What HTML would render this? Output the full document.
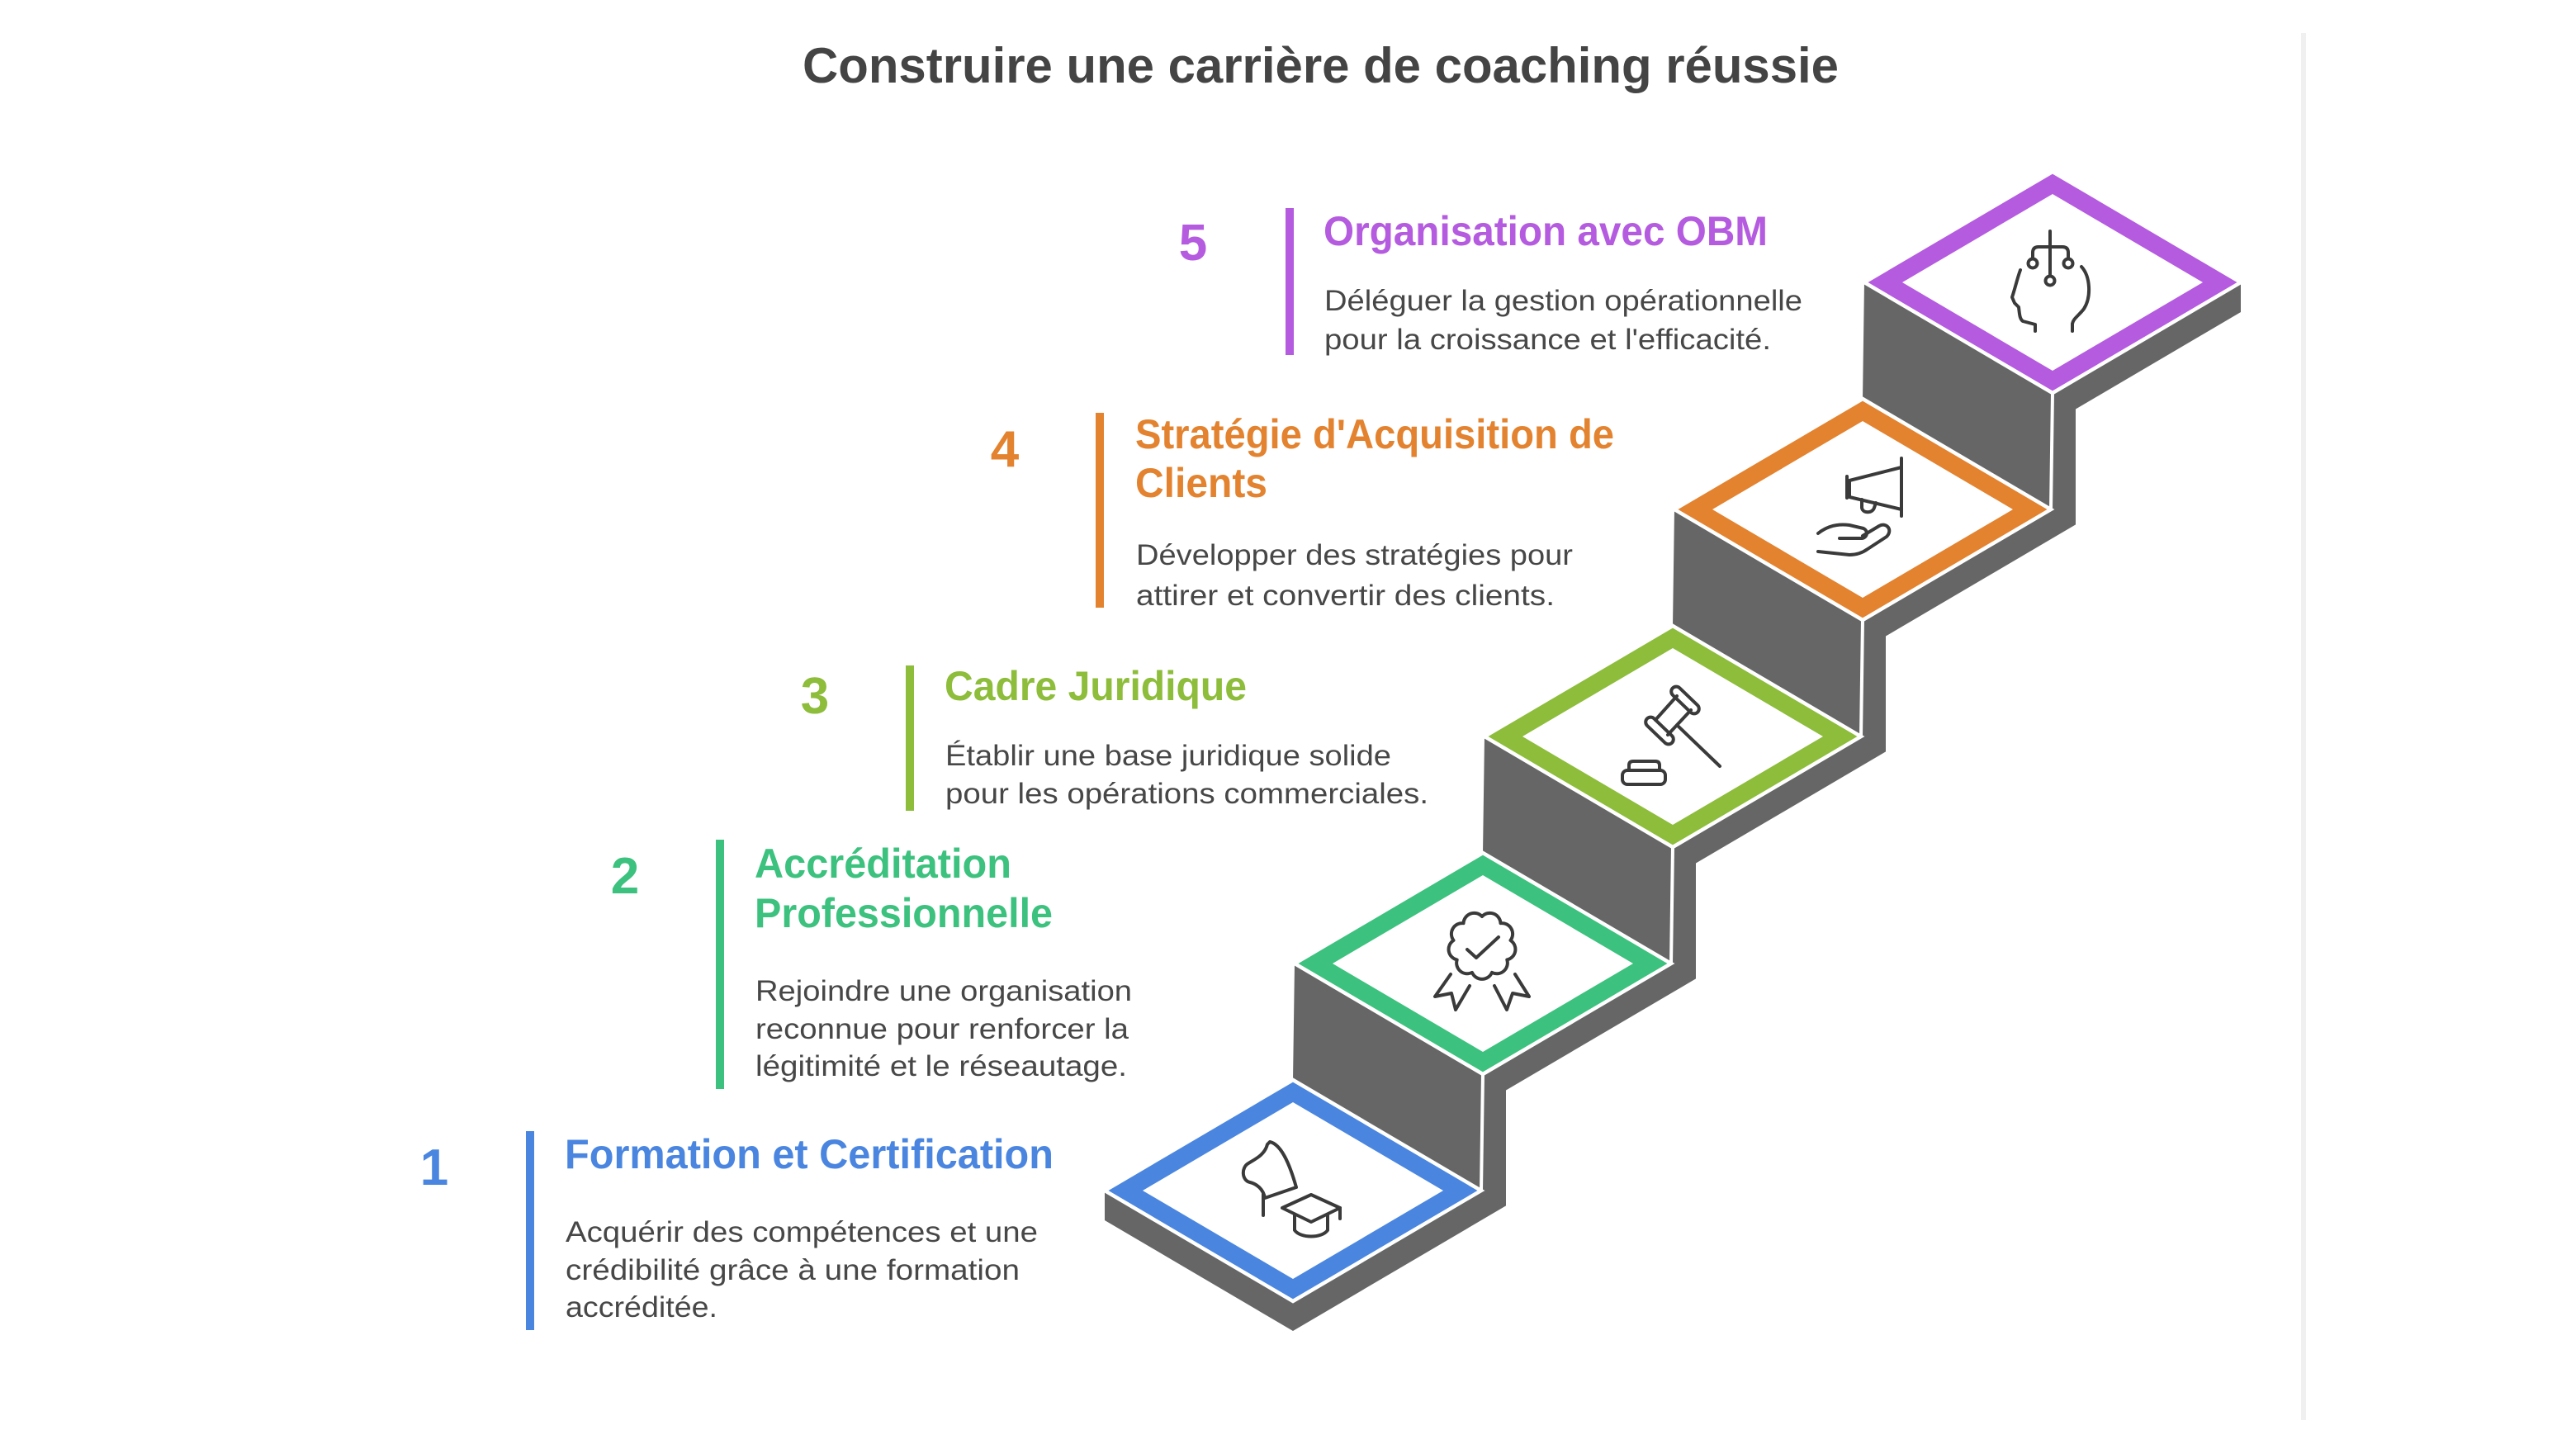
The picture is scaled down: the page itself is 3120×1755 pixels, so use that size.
<!DOCTYPE html>
<html>
<head>
<meta charset="utf-8">
<style>
  html, body { margin:0; padding:0; background:#ffffff; }
  body { width:3120px; height:1755px; overflow:hidden; }
  svg { display:block; }
  .t { font-family:"Liberation Sans", Arial, sans-serif; }
  .h { font-weight:bold; font-size:50px; }
  .n { font-weight:bold; font-size:62px; }
  .d { font-size:35px; fill:#474747; }
  .ic { fill:none; stroke:#3a3a3a; stroke-width:4; stroke-linecap:round; stroke-linejoin:round; }
</style>
</head>
<body>
<svg width="3120" height="1755" viewBox="0 0 3120 1755" xmlns="http://www.w3.org/2000/svg">
  <rect x="0" y="0" width="3120" height="1755" fill="#ffffff"/>

  <!-- right thin separator -->
  <rect x="2787" y="40" width="6" height="1680" fill="#f0f0f0"/>

  <!-- Title -->
  <text class="t" x="972" y="100" font-size="60" font-weight="bold" fill="#444444" textLength="1255" lengthAdjust="spacingAndGlyphs">Construire une carrière de coaching réussie</text>

  <!-- Staircase silhouette -->
  <polygon fill="#666666" points="
    2486,208 2714,342 2714,378 2514,495.5 2514,635.4 2284,770.5 2284,910.4
    2054,1045.5 2054,1185.4 1824,1320.5 1824,1460.4 1566,1612 1338,1478
    1338,1442 1566,1308 1568,1167 1796,1033 1798,892 2026,758 2028,617
    2256,483 2258,342"/>

  <!-- white riser separators -->
  <g stroke="#ffffff" stroke-width="4">
    <line x1="2486" y1="476" x2="2484" y2="617"/>
    <line x1="2256" y1="751" x2="2254" y2="892"/>
    <line x1="2026" y1="1026" x2="2024" y2="1167"/>
    <line x1="1796" y1="1301" x2="1794" y2="1442"/>
  </g>

  <!-- Diamonds -->
  <g stroke="#ffffff" stroke-width="4.5" stroke-linejoin="miter">
    <polygon fill="#4a86e0" points="1566,1308 1794,1442 1566,1576 1338,1442"/>
    <polygon fill="#3cc27e" points="1796,1033 2024,1167 1796,1301 1568,1167"/>
    <polygon fill="#8dbd3b" points="2026,758 2254,892 2026,1026 1798,892"/>
    <polygon fill="#e3832f" points="2256,483 2484,617 2256,751 2028,617"/>
    <polygon fill="#b55be0" points="2486,208 2714,342 2486,476 2258,342"/>
  </g>
  <g fill="#ffffff">
    <polygon points="1566,1335 1748,1442 1566,1549 1384,1442"/>
    <polygon points="1796,1060 1978,1167 1796,1274 1614,1167"/>
    <polygon points="2026,785 2208,892 2026,999 1844,892"/>
    <polygon points="2256,510 2438,617 2256,724 2074,617"/>
    <polygon points="2486,235 2668,342 2486,449 2304,342"/>
  </g>

  <!-- Icon 1: flag + graduation cap -->
  <g class="ic">
    <path d="M1538,1383 C1552,1386 1562,1410 1570,1438 L1532,1451 C1530,1440 1522,1434 1514,1432 C1504,1430 1503,1414 1512,1409 C1522,1403 1532,1398 1535,1386 Z"/>
    <path d="M1530,1446 L1530,1472"/>
    <path d="M1553,1463 L1588,1447 L1623,1463 L1588,1480 Z"/>
    <path d="M1623,1463 L1623,1476"/>
    <path d="M1568,1472 L1568,1490 C1575,1500 1601,1500 1608,1490 L1608,1472"/>
  </g>

  <!-- Icon 2: rosette -->
  <g class="ic">
    <path d="M1795,1110 A13,13 0 0 1 1817.5,1118.2 A13,13 0 0 1 1829.5,1138.9 A13,13 0 0 1 1825.3,1162.5 A13,13 0 0 1 1807,1177.9 A13,13 0 0 1 1783,1177.9 A13,13 0 0 1 1764.7,1162.5 A13,13 0 0 1 1760.5,1138.9 A13,13 0 0 1 1772.5,1118.2 A13,13 0 0 1 1795,1110 Z"/>
    <path d="M1777,1150 L1788,1160 L1815,1135"/>
    <path d="M1757,1180 L1738,1207 L1758,1203 L1763,1223 L1780,1194"/>
    <path d="M1835,1180 L1852,1207 L1832,1203 L1825,1223 L1810,1194"/>
  </g>

  <!-- Icon 3: gavel -->
  <g class="ic">
    <rect x="-21" y="-6" width="42" height="12" rx="6" transform="translate(2041,848) rotate(44)"/>
    <rect x="-21" y="-6" width="42" height="12" rx="6" transform="translate(2010,885) rotate(44)"/>
    <path d="M2031,843 L2005,872"/>
    <path d="M2048,860 L2020,890"/>
    <path d="M2033,880 L2083,928"/>
    <path d="M1973,932 L1973,927 Q1973,922 1978,922 L2005,922 Q2010,922 2010,927 L2010,932"/>
    <rect x="1965" y="933" width="52" height="17" rx="6"/>
  </g>

  <!-- Icon 4: megaphone + hand -->
  <g class="ic">
    <path d="M2303,555 L2303,625"/>
    <path d="M2303,566 L2240,582 L2240,602 L2303,617"/>
    <path d="M2237,577 L2237,603"/>
    <path d="M2255,605 L2255,615 C2256,622 2268,622 2270,615 L2272,609"/>
    <path d="M2202,646 C2212,638 2225,634 2240,636 L2257,640 C2263,643 2262,651 2255,652 L2228,652"/>
    <path d="M2256,649 L2276,637 C2285,632 2293,642 2285,650 L2262,665 C2255,670 2248,672 2240,672 L2202,668"/>
  </g>

  <!-- Icon 5: head with balance -->
  <g class="ic">
    <path d="M2447,327 C2443,338 2441,348 2437,360 L2440,367 L2445,372 C2446,380 2446,386 2450,389 L2465,393 L2465,401"/>
    <path d="M2521,323 C2532,335 2533,360 2524,374 C2518,382 2511,386 2510,392 L2510,401"/>
    <path d="M2483,280 L2483,334"/>
    <circle cx="2483" cy="340" r="5.5"/>
    <path d="M2462,313 L2462,306 Q2462,299 2469,299 L2498,299 Q2505,299 2505,306 L2505,313"/>
    <circle cx="2462" cy="319" r="5.5"/>
    <circle cx="2505" cy="319" r="5.5"/>
  </g>

  <!-- Step 1 -->
  <g class="t">
    <text class="n" x="526" y="1435" fill="#4a86e0" text-anchor="middle">1</text>
    <rect x="637" y="1370" width="10" height="241" fill="#4a86e0"/>
    <text class="h" x="684" y="1415" fill="#4a86e0" textLength="592" lengthAdjust="spacingAndGlyphs">Formation et Certification</text>
    <text class="d" x="685" y="1504" textLength="572" lengthAdjust="spacingAndGlyphs">Acquérir des compétences et une</text>
    <text class="d" x="685" y="1550" textLength="550" lengthAdjust="spacingAndGlyphs">crédibilité grâce à une formation</text>
    <text class="d" x="685" y="1595" textLength="184" lengthAdjust="spacingAndGlyphs">accréditée.</text>
  </g>

  <!-- Step 2 -->
  <g class="t">
    <text class="n" x="757" y="1082" fill="#3cc27e" text-anchor="middle">2</text>
    <rect x="867" y="1017" width="10" height="302" fill="#3cc27e"/>
    <text class="h" x="914" y="1063" fill="#3cc27e" textLength="311" lengthAdjust="spacingAndGlyphs">Accréditation</text>
    <text class="h" x="914" y="1123" fill="#3cc27e" textLength="361" lengthAdjust="spacingAndGlyphs">Professionnelle</text>
    <text class="d" x="915" y="1212" textLength="456" lengthAdjust="spacingAndGlyphs">Rejoindre une organisation</text>
    <text class="d" x="915" y="1258" textLength="452" lengthAdjust="spacingAndGlyphs">reconnue pour renforcer la</text>
    <text class="d" x="915" y="1303" textLength="450" lengthAdjust="spacingAndGlyphs">légitimité et le réseautage.</text>
  </g>

  <!-- Step 3 -->
  <g class="t">
    <text class="n" x="987" y="864" fill="#8dbd3b" text-anchor="middle">3</text>
    <rect x="1097" y="806" width="10" height="176" fill="#8dbd3b"/>
    <text class="h" x="1144" y="848" fill="#8dbd3b" textLength="366" lengthAdjust="spacingAndGlyphs">Cadre Juridique</text>
    <text class="d" x="1145" y="927" textLength="540" lengthAdjust="spacingAndGlyphs">Établir une base juridique solide</text>
    <text class="d" x="1145" y="973" textLength="585" lengthAdjust="spacingAndGlyphs">pour les opérations commerciales.</text>
  </g>

  <!-- Step 4 -->
  <g class="t">
    <text class="n" x="1217" y="565" fill="#e3832f" text-anchor="middle">4</text>
    <rect x="1327" y="500" width="10" height="236" fill="#e3832f"/>
    <text class="h" x="1375" y="543" fill="#e3832f" textLength="580" lengthAdjust="spacingAndGlyphs">Stratégie d'Acquisition de</text>
    <text class="h" x="1375" y="602" fill="#e3832f" textLength="160" lengthAdjust="spacingAndGlyphs">Clients</text>
    <text class="d" x="1376" y="684" textLength="529" lengthAdjust="spacingAndGlyphs">Développer des stratégies pour</text>
    <text class="d" x="1376" y="733" textLength="507" lengthAdjust="spacingAndGlyphs">attirer et convertir des clients.</text>
  </g>

  <!-- Step 5 -->
  <g class="t">
    <text class="n" x="1445" y="315" fill="#b55be0" text-anchor="middle">5</text>
    <rect x="1557" y="252" width="10" height="178" fill="#b55be0"/>
    <text class="h" x="1603" y="297" fill="#b55be0" textLength="538" lengthAdjust="spacingAndGlyphs">Organisation avec OBM</text>
    <text class="d" x="1604" y="376" textLength="579" lengthAdjust="spacingAndGlyphs">Déléguer la gestion opérationnelle</text>
    <text class="d" x="1604" y="423" textLength="541" lengthAdjust="spacingAndGlyphs">pour la croissance et l'efficacité.</text>
  </g>
</svg>
</body>
</html>
